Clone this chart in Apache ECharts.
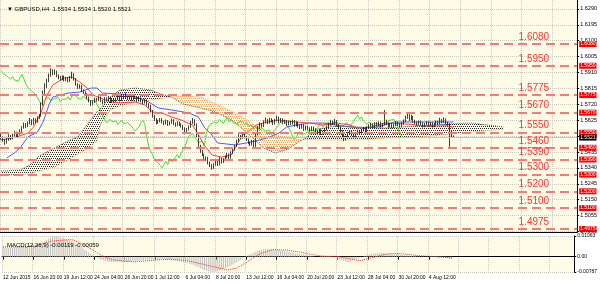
<!DOCTYPE html>
<html><head><meta charset="utf-8">
<script src="https://cdn.jsdelivr.net/npm/echarts@6/dist/echarts.min.js"></script>
<style>html,body{margin:0;padding:0;background:#fff}#c{width:600px;height:284px}</style>
</head><body><div id="c"></div><script>
const titleText = '\u25BC GBPUSD,H4  1.5534 1.5534 1.5520 1.5521';
const macdText = 'MACD(12,26,9) -0.00119 -0.00059';
const timeLabels = ['12 Jun 2015','16 Jun 20:00','19 Jun 12:00','24 Jun 04:00','26 Jun 20:00','1 Jul 12:00','6 Jul 04:00','8 Jul 20:00','13 Jul 12:00','16 Jul 04:00','20 Jul 20:00','23 Jul 12:00','28 Jul 04:00','30 Jul 20:00','4 Aug 12:00'];
const priceTicks = [1.6290,1.6195,1.6100,1.6005,1.5910,1.5815,1.5720,1.5625,1.5530,1.5435,1.5340,1.5245,1.5150,1.5055,1.4960];
const macdTicks = [0.01063, 0, -0.00787];
const levels = [1.6080,1.5950,1.5775,1.5670,1.5550,1.5460,1.5390,1.5300,1.5200,1.5100,1.4975];
const lastPrice = 1.5521;
// candles: [open, close, low, high]
const candles = [
[1.5535,1.5520,1.5508,1.5546],[1.5520,1.5505,1.5496,1.5528],[1.5505,1.5490,1.5478,1.5512],[1.5490,1.5510,1.5485,1.5518],[1.5510,1.5530,1.5502,1.5541],
[1.5530,1.5515,1.5506,1.5537],[1.5515,1.5535,1.5511,1.5544],[1.5535,1.5550,1.5528,1.5562],[1.5550,1.5528,1.5519,1.5556],[1.5528,1.5545,1.5522,1.5553],
[1.5545,1.5560,1.5538,1.5571],[1.5560,1.5580,1.5552,1.5589],[1.5580,1.5600,1.5574,1.5611],[1.5600,1.5590,1.5578,1.5608],[1.5590,1.5610,1.5584,1.5618],
[1.5610,1.5625,1.5601,1.5638],[1.5625,1.5605,1.5594,1.5631],[1.5605,1.5630,1.5598,1.5639],[1.5630,1.5615,1.5606,1.5636],[1.5615,1.5640,1.5610,1.5648],
[1.5640,1.5650,1.5632,1.5662],[1.5650,1.5720,1.5645,1.5731],[1.5720,1.5790,1.5712,1.5802],[1.5790,1.5830,1.5781,1.5846],[1.5830,1.5860,1.5818,1.5873],
[1.5860,1.5890,1.5852,1.5904],[1.5890,1.5920,1.5884,1.5935],[1.5920,1.5905,1.5893,1.5930],[1.5905,1.5915,1.5896,1.5928],[1.5915,1.5890,1.5882,1.5921],
[1.5890,1.5880,1.5869,1.5898],[1.5880,1.5870,1.5861,1.5889],[1.5870,1.5885,1.5864,1.5893],[1.5885,1.5865,1.5857,1.5891],[1.5865,1.5875,1.5858,1.5884],
[1.5875,1.5860,1.5851,1.5882],[1.5860,1.5880,1.5854,1.5889],[1.5880,1.5900,1.5873,1.5915],[1.5900,1.5870,1.5862,1.5906],[1.5870,1.5840,1.5831,1.5876],
[1.5840,1.5820,1.5812,1.5846],[1.5820,1.5830,1.5813,1.5839],[1.5830,1.5800,1.5792,1.5836],[1.5800,1.5790,1.5781,1.5808],[1.5790,1.5780,1.5770,1.5797],
[1.5780,1.5760,1.5751,1.5786],[1.5760,1.5740,1.5731,1.5766],[1.5740,1.5720,1.5709,1.5745],[1.5720,1.5735,1.5714,1.5743],[1.5735,1.5750,1.5728,1.5759],
[1.5750,1.5745,1.5736,1.5758],[1.5745,1.5760,1.5739,1.5768],[1.5760,1.5740,1.5732,1.5766],[1.5740,1.5730,1.5721,1.5747],[1.5730,1.5755,1.5726,1.5763],
[1.5755,1.5745,1.5737,1.5762],[1.5745,1.5760,1.5739,1.5769],[1.5760,1.5735,1.5727,1.5766],[1.5735,1.5750,1.5729,1.5758],[1.5750,1.5740,1.5731,1.5757],
[1.5740,1.5750,1.5733,1.5759],[1.5750,1.5765,1.5744,1.5776],[1.5765,1.5745,1.5737,1.5771],[1.5745,1.5770,1.5740,1.5782],[1.5770,1.5760,1.5751,1.5778],
[1.5760,1.5775,1.5753,1.5790],[1.5775,1.5755,1.5746,1.5781],[1.5755,1.5765,1.5748,1.5774],[1.5765,1.5750,1.5741,1.5771],[1.5750,1.5770,1.5744,1.5779],
[1.5770,1.5760,1.5751,1.5777],[1.5760,1.5745,1.5736,1.5766],[1.5745,1.5755,1.5738,1.5763],[1.5755,1.5740,1.5731,1.5761],[1.5740,1.5730,1.5720,1.5747],
[1.5730,1.5745,1.5724,1.5753],[1.5745,1.5720,1.5712,1.5751],[1.5720,1.5710,1.5699,1.5727],[1.5710,1.5680,1.5671,1.5716],[1.5680,1.5650,1.5641,1.5686],
[1.5650,1.5630,1.5620,1.5657],[1.5630,1.5610,1.5600,1.5637],[1.5610,1.5620,1.5603,1.5628],[1.5620,1.5630,1.5612,1.5638],[1.5630,1.5615,1.5606,1.5637],
[1.5615,1.5605,1.5596,1.5622],[1.5605,1.5620,1.5599,1.5629],[1.5620,1.5600,1.5591,1.5626],[1.5600,1.5610,1.5593,1.5618],[1.5610,1.5625,1.5604,1.5634],
[1.5625,1.5605,1.5596,1.5631],[1.5605,1.5595,1.5586,1.5612],[1.5595,1.5610,1.5589,1.5618],[1.5610,1.5600,1.5591,1.5617],[1.5600,1.5590,1.5581,1.5607],
[1.5590,1.5575,1.5566,1.5597],[1.5575,1.5560,1.5550,1.5582],[1.5560,1.5570,1.5553,1.5578],[1.5570,1.5585,1.5564,1.5593],[1.5585,1.5610,1.5579,1.5620],
[1.5610,1.5625,1.5603,1.5638],[1.5625,1.5600,1.5591,1.5631],[1.5600,1.5530,1.5521,1.5606],[1.5530,1.5470,1.5460,1.5537],[1.5470,1.5440,1.5430,1.5478],
[1.5440,1.5420,1.5411,1.5447],[1.5420,1.5390,1.5380,1.5426],[1.5390,1.5400,1.5382,1.5409],[1.5400,1.5370,1.5361,1.5406],[1.5370,1.5355,1.5345,1.5377],
[1.5355,1.5340,1.5329,1.5362],[1.5340,1.5360,1.5334,1.5368],[1.5360,1.5380,1.5353,1.5389],[1.5380,1.5360,1.5351,1.5386],[1.5360,1.5395,1.5355,1.5404],
[1.5395,1.5375,1.5366,1.5401],[1.5375,1.5390,1.5369,1.5398],[1.5390,1.5405,1.5383,1.5413],[1.5405,1.5420,1.5398,1.5429],[1.5420,1.5400,1.5391,1.5426],
[1.5400,1.5430,1.5395,1.5439],[1.5430,1.5450,1.5423,1.5458],[1.5450,1.5470,1.5443,1.5479],[1.5470,1.5500,1.5464,1.5509],[1.5500,1.5530,1.5493,1.5541],
[1.5530,1.5520,1.5511,1.5537],[1.5520,1.5545,1.5514,1.5553],[1.5545,1.5525,1.5516,1.5551],[1.5525,1.5510,1.5501,1.5532],[1.5510,1.5490,1.5481,1.5516],
[1.5490,1.5480,1.5470,1.5497],[1.5480,1.5500,1.5474,1.5508],[1.5500,1.5470,1.5461,1.5506],[1.5470,1.5540,1.5465,1.5549],[1.5540,1.5580,1.5533,1.5591],
[1.5580,1.5600,1.5572,1.5612],[1.5600,1.5590,1.5581,1.5608],[1.5590,1.5615,1.5584,1.5624],[1.5615,1.5625,1.5607,1.5641],[1.5625,1.5610,1.5601,1.5632],
[1.5610,1.5630,1.5604,1.5639],[1.5630,1.5620,1.5611,1.5637],[1.5620,1.5605,1.5596,1.5627],[1.5605,1.5625,1.5599,1.5633],[1.5625,1.5640,1.5618,1.5652],
[1.5640,1.5615,1.5606,1.5646],[1.5615,1.5630,1.5609,1.5638],[1.5630,1.5610,1.5601,1.5636],[1.5610,1.5620,1.5603,1.5628],[1.5620,1.5600,1.5591,1.5626],
[1.5600,1.5615,1.5594,1.5623],[1.5615,1.5605,1.5596,1.5622],[1.5605,1.5620,1.5599,1.5628],[1.5620,1.5595,1.5586,1.5626],[1.5595,1.5610,1.5589,1.5618],
[1.5610,1.5590,1.5581,1.5616],[1.5590,1.5580,1.5571,1.5597],[1.5580,1.5595,1.5574,1.5603],[1.5595,1.5570,1.5561,1.5601],[1.5570,1.5585,1.5564,1.5593],
[1.5585,1.5575,1.5566,1.5592],[1.5575,1.5565,1.5556,1.5582],[1.5565,1.5580,1.5559,1.5588],[1.5580,1.5570,1.5561,1.5587],[1.5570,1.5560,1.5551,1.5577],
[1.5560,1.5550,1.5541,1.5567],[1.5550,1.5565,1.5544,1.5573],[1.5565,1.5545,1.5536,1.5571],[1.5545,1.5555,1.5538,1.5563],[1.5555,1.5570,1.5549,1.5578],
[1.5570,1.5585,1.5564,1.5593],[1.5585,1.5600,1.5578,1.5609],[1.5600,1.5615,1.5594,1.5627],[1.5615,1.5605,1.5596,1.5622],[1.5605,1.5620,1.5599,1.5633],
[1.5620,1.5595,1.5586,1.5626],[1.5595,1.5580,1.5571,1.5602],[1.5580,1.5560,1.5551,1.5587],[1.5560,1.5530,1.5521,1.5566],[1.5530,1.5510,1.5499,1.5537],
[1.5510,1.5525,1.5504,1.5533],[1.5525,1.5545,1.5519,1.5553],[1.5545,1.5555,1.5538,1.5564],[1.5555,1.5540,1.5531,1.5561],[1.5540,1.5530,1.5521,1.5547],
[1.5530,1.5545,1.5524,1.5553],[1.5545,1.5560,1.5538,1.5569],[1.5560,1.5550,1.5541,1.5567],[1.5550,1.5565,1.5544,1.5573],[1.5565,1.5575,1.5558,1.5584],
[1.5575,1.5560,1.5551,1.5582],[1.5560,1.5580,1.5554,1.5588],[1.5580,1.5590,1.5573,1.5599],[1.5590,1.5600,1.5583,1.5609],[1.5600,1.5585,1.5576,1.5607],
[1.5585,1.5605,1.5579,1.5613],[1.5605,1.5595,1.5586,1.5612],[1.5595,1.5610,1.5589,1.5618],[1.5610,1.5590,1.5581,1.5617],[1.5590,1.5600,1.5583,1.5608],
[1.5600,1.5620,1.5594,1.5686],[1.5620,1.5605,1.5596,1.5628],[1.5605,1.5590,1.5581,1.5612],[1.5590,1.5600,1.5583,1.5608],[1.5600,1.5585,1.5576,1.5607],
[1.5585,1.5595,1.5578,1.5603],[1.5595,1.5610,1.5589,1.5618],[1.5610,1.5600,1.5591,1.5617],[1.5600,1.5590,1.5581,1.5607],[1.5590,1.5605,1.5584,1.5613],
[1.5605,1.5620,1.5599,1.5629],[1.5620,1.5640,1.5614,1.5652],[1.5640,1.5655,1.5633,1.5668],[1.5655,1.5630,1.5621,1.5661],[1.5630,1.5645,1.5624,1.5656],
[1.5645,1.5620,1.5611,1.5651],[1.5620,1.5610,1.5601,1.5627],[1.5610,1.5600,1.5591,1.5617],[1.5600,1.5615,1.5594,1.5623],[1.5615,1.5605,1.5596,1.5622],
[1.5605,1.5590,1.5581,1.5612],[1.5590,1.5600,1.5583,1.5608],[1.5600,1.5610,1.5593,1.5618],[1.5610,1.5595,1.5586,1.5617],[1.5595,1.5605,1.5588,1.5613],
[1.5605,1.5590,1.5581,1.5612],[1.5590,1.5600,1.5583,1.5608],[1.5600,1.5615,1.5594,1.5623],[1.5615,1.5605,1.5596,1.5622],[1.5605,1.5625,1.5599,1.5640],
[1.5625,1.5615,1.5606,1.5632],[1.5615,1.5630,1.5609,1.5641],[1.5630,1.5610,1.5601,1.5636],[1.5610,1.5600,1.5591,1.5617],[1.5600,1.5545,1.5465,1.5606],
[1.5545,1.5534,1.5520,1.5560],[1.5534,1.5521,1.5520,1.5534]
];
// Ichimoku lines as [barIndex, price]
const tenkan = [[0,1.5507],[8,1.5524],[14,1.5548],[17,1.5584],[21,1.5674],[24,1.5775],[27,1.5835],[33,1.5877],[37,1.5883],[41,1.5853],[45,1.5817],[48,1.5775],[52,1.5757],[57,1.5734],[62,1.5728],[70,1.5734],[75,1.5716],[79,1.5674],[84,1.5668],[89,1.5644],[94,1.5626],[100,1.5596],[103,1.5536],[106,1.5477],[110,1.5417],[115,1.5405],[120,1.5417],[123,1.5477],[126,1.5536],[130,1.5566],[133,1.5596],[139,1.5614],[145,1.5626],[154,1.5614],[161,1.5608],[168,1.5596],[175,1.5608],[182,1.5596],[186,1.5578],[193,1.5584],[200,1.5608],[207,1.5605],[214,1.5600],[221,1.5590],[227,1.5590],[232,1.5592],[236,1.5584]];
const kijun = [[3,1.5399],[7,1.5429],[10,1.5459],[14,1.5524],[19,1.5554],[22,1.5614],[25,1.5716],[27,1.5763],[35,1.5787],[41,1.5793],[47,1.5817],[50,1.5817],[53,1.5787],[62,1.5781],[68,1.5775],[77,1.5734],[82,1.5698],[89,1.5686],[98,1.5668],[103,1.5644],[106,1.5584],[110,1.5536],[113,1.5489],[122,1.5477],[128,1.5489],[135,1.5507],[140,1.5524],[145,1.5548],[149,1.5584],[154,1.5596],[161,1.5608],[168,1.5608],[175,1.5596],[182,1.5584],[189,1.5578],[196,1.5584],[200,1.5596],[205,1.5614],[214,1.5614],[227,1.5614],[236,1.5614]];
const cloudBars = [0,10,15,20,28,35,40,46,50,52,57,62,70,78,85,89,95,104,112,122,130,137,143,150,156,158,165,175,187,200,218,234,245,262];
const spanA = [1.5321,1.5327,1.5357,1.5411,1.5459,1.5501,1.5524,1.5614,1.5674,1.5698,1.5763,1.5805,1.5817,1.5805,1.5775,1.5763,1.5722,1.5698,1.5674,1.5614,1.5530,1.5459,1.5429,1.5453,1.5501,1.5512,1.5572,1.5590,1.5584,1.5578,1.5590,1.5602,1.5608,1.5584];
const spanB = [1.5297,1.5297,1.5303,1.5321,1.5345,1.5387,1.5423,1.5459,1.5501,1.5602,1.5686,1.5710,1.5734,1.5745,1.5757,1.5763,1.5769,1.5763,1.5722,1.5668,1.5614,1.5560,1.5536,1.5518,1.5507,1.5512,1.5507,1.5507,1.5507,1.5518,1.5524,1.5542,1.5554,1.5572];
const chikouShift = 26;
// MACD main (histogram) per bar
const macdMain = [
0.0050,0.0048,0.0046,0.0045,0.0046,0.0045,0.0047,0.0049,0.0048,0.0049,0.0051,0.0053,0.0055,0.0056,0.0058,0.0060,
0.0061,0.0063,0.0064,0.0066,0.0068,
0.0074,0.0081,0.0087,0.0092,0.0097,0.0101,
0.0104,0.0106,0.0104,0.0101,0.0097,0.0093,0.0089,0.0086,0.0083,0.0079,0.0073,0.0068,
0.0062,0.0056,0.0050,0.0043,0.0036,0.0029,0.0022,
0.0015,0.0009,0.0003,-0.0003,-0.0008,-0.0013,-0.0017,
-0.0021,-0.0023,-0.0025,-0.0026,-0.0027,-0.0027,-0.0028,-0.0028,-0.0027,-0.0027,-0.0028,-0.0027,-0.0027,-0.0026,-0.0025,-0.0024,-0.0023,-0.0022,-0.0020,-0.0019,-0.0018,-0.0017,-0.0016,-0.0016,-0.0015,
-0.0015,-0.0016,-0.0017,-0.0016,-0.0014,-0.0012,-0.0012,-0.0013,-0.0014,-0.0015,-0.0016,-0.0017,-0.0018,-0.0020,-0.0022,-0.0024,-0.0026,-0.0028,-0.0030,-0.0033,-0.0036,-0.0039,-0.0042,
-0.0046,-0.0051,-0.0056,-0.0061,-0.0065,-0.0069,-0.0072,-0.0075,-0.0077,-0.0079,-0.0079,-0.0078,-0.0075,-0.0070,-0.0066,-0.0062,-0.0058,-0.0055,-0.0051,-0.0046,
-0.0040,-0.0034,-0.0029,-0.0022,-0.0015,-0.0008,-0.0002,0.0004,0.0009,0.0013,0.0017,0.0021,
0.0025,0.0029,0.0033,0.0036,0.0038,0.0040,0.0041,0.0040,0.0039,0.0038,0.0037,0.0035,0.0034,0.0032,0.0031,0.0029,0.0027,0.0025,
0.0024,0.0022,0.0020,0.0018,0.0016,0.0014,0.0013,0.0011,0.0009,0.0007,0.0005,0.0003,0.0002,0.0001,0.0000,
0.0001,0.0002,0.0003,0.0004,0.0004,0.0004,0.0003,0.0001,-0.0002,-0.0006,-0.0010,-0.0014,-0.0018,-0.0022,-0.0025,-0.0027,-0.0027,-0.0025,-0.0021,-0.0016,
-0.0011,-0.0007,-0.0003,0.0000,0.0003,0.0006,0.0009,0.0012,0.0014,0.0016,0.0017,0.0018,0.0019,0.0019,0.0019,0.0018,0.0017,0.0016,0.0015,0.0014,0.0013,0.0012,0.0011,0.0010,0.0009,
0.0008,0.0007,0.0006,0.0005,0.0004,0.0003,0.0003,0.0002,0.0002,0.0001,0.0001,0.0000,0.0000,0.0000,-0.0001,-0.0001,-0.0002,-0.0002,-0.0003,-0.0003,-0.0004,-0.0005,-0.0006,-0.0008,-0.0010,-0.0012
];
const macdSignal = [[0,0.0050],[10,0.0050],[17,0.0055],[26,0.0081],[36,0.0088],[41,0.0070],[47,0.0036],[52,0.0005],[57,-0.0015],[69,-0.0027],[78,-0.0019],[87,-0.0013],[97,-0.0020],[107,-0.0043],[118,-0.0068],[123,-0.0058],[128,-0.0030],[135,0.0015],[142,0.0036],[149,0.0034],[156,0.0024],[161,0.0014],[168,0.0003],[176,0.0001],[183,-0.0012],[188,-0.0020],[194,-0.0006],[201,0.0012],[206,0.0017],[211,0.0014],[219,0.0005],[228,0.0000],[236,-0.0006]];

const N = 301;
const categories = Array.from({length: N}, (_, i) => (i % 16 === 0 && i / 16 < timeLabels.length) ? timeLabels[i / 16] : '');
const chikou = [];
for (let i = 0; i + chikouShift < candles.length; i++) chikou.push([i, candles[i + chikouShift][1]]);

function dotPattern(color) {
  const c = document.createElement('canvas'); c.width = 4; c.height = 4;
  const g = c.getContext('2d'); g.fillStyle = color;
  g.fillRect(0, 0, 1, 1); g.fillRect(2, 0, 1, 1); g.fillRect(1, 2, 1, 1); g.fillRect(3, 2, 1, 1);
  return {type: 'pattern', image: c, repeat: 'repeat'};
}
const darkPat = dotPattern('#2a2a2a');
const orangePat = dotPattern('#f5a050');

const FONT = 'Liberation Sans, Arial, sans-serif';
const bg = '#fefce6';
const gridLine = {show: true, lineStyle: {color: '#c9c9c0', type: 'dotted', width: 1}};
const vInterval = (i) => i % 16 === 0;
const lblInterval = (i) => i % 16 === 0 && i / 16 < timeLabels.length;

const chart = echarts.init(document.getElementById('c'), null, {renderer: 'canvas'});
chart.setOption({
  animation: false,
  backgroundColor: '#ffffff',
  textStyle: {fontFamily: FONT},
  title: [
    {text: titleText, left: 2, top: 1, textStyle: {fontSize: 6, fontWeight: 'normal', color: '#000', fontFamily: FONT}},
    {text: macdText, left: 2, top: 237, textStyle: {fontSize: 6, fontWeight: 'normal', color: '#000', fontFamily: FONT}}
  ],
  grid: [
    {left: 0, right: 20, top: 0, height: 232, show: true, backgroundColor: bg, borderWidth: 0},
    {left: 0, right: 20, top: 236, height: 36, show: true, backgroundColor: bg, borderWidth: 0}
  ],
  xAxis: [
    {type: 'category', gridIndex: 0, data: categories, boundaryGap: true,
     axisLine: {show: true, lineStyle: {color: '#000', width: 1}}, axisTick: {show: false}, axisLabel: {show: false},
     splitLine: {show: true, interval: vInterval, lineStyle: gridLine.lineStyle}},
    {type: 'category', gridIndex: 1, data: categories, boundaryGap: true,
     axisLine: {show: true, lineStyle: {color: '#000', width: 1}},
     axisTick: {show: true, interval: lblInterval, alignWithLabel: true, length: 3, lineStyle: {color: '#000'}},
     axisLabel: {show: true, interval: lblInterval, showMinLabel: true, align: 'left', fontSize: 5, color: '#000', margin: 3, fontFamily: FONT},
     splitLine: {show: true, interval: vInterval, lineStyle: gridLine.lineStyle}}
  ],
  yAxis: [
    {type: 'value', gridIndex: 0, position: 'right', min: 1.4957, max: 1.6343, scale: true,
     axisLine: {show: true, lineStyle: {color: '#000'}},
     axisTick: {show: true, length: 2, customValues: priceTicks, lineStyle: {color: '#000'}},
     axisLabel: {show: true, customValues: priceTicks, fontSize: 5.5, color: '#000', margin: 3, fontFamily: FONT, formatter: v => v.toFixed(4)},
     splitLine: gridLine},
    {type: 'value', gridIndex: 1, position: 'right', min: -0.00787, max: 0.01063,
     axisLine: {show: true, lineStyle: {color: '#000'}},
     axisTick: {show: true, length: 2, customValues: macdTicks, lineStyle: {color: '#000'}},
     axisLabel: {show: true, customValues: macdTicks, fontSize: 5, color: '#000', margin: 3, fontFamily: FONT, formatter: v => v === 0 ? '0.00' : v.toFixed(5)},
     splitLine: gridLine}
  ],
  series: [
    {type: 'custom', name: 'cloud', xAxisIndex: 0, yAxisIndex: 0, z: 1, clip: true,
     data: cloudBars.map((b, i) => [b, spanA[i], spanB[i]]),
     encode: {x: 0, y: [1, 2]},
     renderItem(params, api) {
       const i = params.dataIndex;
       if (i >= cloudBars.length - 1) return null;
       const a0 = api.coord([cloudBars[i], spanA[i]]), a1 = api.coord([cloudBars[i + 1], spanA[i + 1]]);
       const b1 = api.coord([cloudBars[i + 1], spanB[i + 1]]), b0 = api.coord([cloudBars[i], spanB[i]]);
       const up = spanA[i] + spanA[i + 1] >= spanB[i] + spanB[i + 1];
       return {type: 'polygon', shape: {points: [a0, a1, b1, b0]}, style: {fill: up ? darkPat : orangePat}};
     }},
    {type: 'line', name: 'Senkou A', xAxisIndex: 0, yAxisIndex: 0, z: 2, showSymbol: false, silent: true,
     data: cloudBars.map((b, i) => [b, spanA[i]]), lineStyle: {color: '#555', width: 1, type: 'dotted'}},
    {type: 'line', name: 'Senkou B', xAxisIndex: 0, yAxisIndex: 0, z: 2, showSymbol: false, silent: true,
     data: cloudBars.map((b, i) => [b, spanB[i]]), lineStyle: {color: '#f5a050', width: 1, type: 'dotted'}},
    {type: 'line', name: 'Chikou', xAxisIndex: 0, yAxisIndex: 0, z: 3, showSymbol: false, silent: true,
     data: chikou, lineStyle: {color: '#3fe03f', width: 1}},
    {type: 'line', name: 'Kijun', xAxisIndex: 0, yAxisIndex: 0, z: 3, showSymbol: false, silent: true,
     data: kijun, lineStyle: {color: '#4a5cff', width: 1}},
    {type: 'line', name: 'Tenkan', xAxisIndex: 0, yAxisIndex: 0, z: 3, showSymbol: false, silent: true,
     data: tenkan, lineStyle: {color: '#ff4040', width: 1}},
    {type: 'candlestick', name: 'GBPUSD', xAxisIndex: 0, yAxisIndex: 0, z: 4, barWidth: 1.3,
     data: candles,
     itemStyle: {color: '#ffffff', color0: '#000000', borderColor: '#111111', borderColor0: '#111111', borderWidth: 0.8}},
    {type: 'line', name: 'levels', xAxisIndex: 0, yAxisIndex: 0, z: 6, data: [], silent: true,
     markLine: {silent: true, symbol: 'none', animation: false, precision: 4,
       lineStyle: {color: '#f77272', width: 2, type: [9, 5], opacity: 0.95},
       label: {show: true, position: 'insideEndTop', distance: [28, 2], color: '#ff2b2b', fontSize: 10, fontFamily: FONT,
               formatter: p => Number(p.value).toFixed(4)},
       data: levels.map(v => ({yAxis: v}))}},
    {type: 'line', name: 'levelTags', xAxisIndex: 0, yAxisIndex: 0, z: 7, data: [], silent: true,
     markLine: {silent: true, symbol: 'none', animation: false, precision: 4,
       lineStyle: {color: 'rgba(0,0,0,0)', width: 1},
       label: {show: true, position: 'end', distance: 2, color: '#ffffff', backgroundColor: '#ff0000', fontSize: 5, padding: [1, 1, 0, 1], fontFamily: FONT,
               formatter: p => Number(p.value).toFixed(4)},
       data: levels.map(v => ({yAxis: v}))}},
    {type: 'line', name: 'bid', xAxisIndex: 0, yAxisIndex: 0, z: 3, data: [], silent: true,
     markLine: {silent: true, symbol: 'none', animation: false, precision: 4,
       lineStyle: {color: '#c4c4c4', width: 1, type: 'solid'},
       label: {show: true, position: 'end', distance: 2, color: '#fff', backgroundColor: '#000', fontSize: 5, padding: [1, 1, 0, 1], fontFamily: FONT,
               formatter: p => Number(p.value).toFixed(4)},
       data: [{yAxis: lastPrice}]}},
    {type: 'bar', name: 'MACD', xAxisIndex: 1, yAxisIndex: 1, barWidth: 1, data: macdMain, itemStyle: {color: '#c0c0c0'}, silent: true},
    {type: 'line', name: 'Signal', xAxisIndex: 1, yAxisIndex: 1, showSymbol: false, silent: true,
     data: macdSignal, lineStyle: {color: '#ff3030', width: 1, type: 'dotted'}}
  ]
});
</script></body></html>
